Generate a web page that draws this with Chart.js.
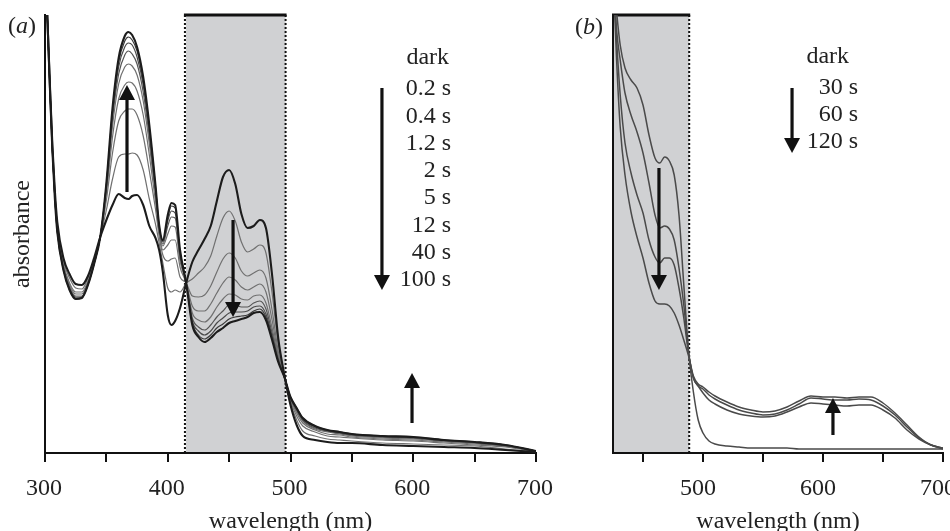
<!DOCTYPE html>
<html><head><meta charset="utf-8">
<script src="https://cdn.jsdelivr.net/npm/chart.js@4.4.1/dist/chart.umd.min.js"></script>
<style>
html,body{margin:0;padding:0;background:#fff;width:950px;height:531px;overflow:hidden;}
#ca{position:absolute;left:0;top:0;}
#cb{position:absolute;left:560px;top:0;}
.lab{position:absolute;font-family:'Liberation Serif','Times New Roman',serif;font-size:24px;color:#222;line-height:28px;}
</style></head><body>
<canvas id="ca" width="560" height="531"></canvas>
<canvas id="cb" width="390" height="531"></canvas>
<div class="lab" style="left:8px;top:11px">(<i>a</i>)</div>
<div class="lab" style="left:575px;top:12px">(<i>b</i>)</div>
<script>
// ---------- panel (a) data ----------
const wlA = [300,302,304,306,308,310,315,320,325,330,335,340,345,350,355,360,365,368,371,375,380,385,390,393,396,400,403,406,410,415,420,425,430,435,440,445,450,455,460,465,470,475,480,485,490,495,500,505,510,520,530,540,550,575,600,625,650,675,700];
const aDark = [4.93,4.33,3.68,3.08,2.63,2.31,1.95,1.79,1.69,1.68,1.77,1.95,2.16,2.33,2.48,2.59,2.55,2.54,2.57,2.58,2.48,2.27,2.15,2.03,1.81,1.38,1.28,1.32,1.45,1.70,1.91,2.03,2.14,2.27,2.52,2.76,2.83,2.69,2.39,2.25,2.27,2.33,2.25,1.78,1.15,0.78,0.48,0.28,0.17,0.13,0.11,0.10,0.10,0.08,0.07,0.06,0.05,0.03,0.01];
const a02 = [4.93,4.33,3.67,3.07,2.61,2.28,1.92,1.75,1.65,1.64,1.75,1.93,2.16,2.43,2.74,2.96,2.99,2.99,3.00,2.98,2.83,2.54,2.29,2.10,1.90,1.65,1.61,1.63,1.61,1.70,1.74,1.80,1.86,1.97,2.17,2.35,2.42,2.32,2.11,2.01,2.04,2.08,2.00,1.60,1.09,0.77,0.50,0.33,0.22,0.17,0.14,0.13,0.12,0.10,0.09,0.08,0.07,0.04,0.01];
const a04 = [4.93,4.33,3.66,3.05,2.59,2.26,1.89,1.70,1.61,1.61,1.72,1.92,2.16,2.53,3.00,3.32,3.42,3.44,3.44,3.38,3.17,2.82,2.44,2.17,1.98,1.92,1.94,1.95,1.76,1.70,1.57,1.56,1.58,1.67,1.81,1.94,2.00,1.95,1.82,1.77,1.80,1.83,1.75,1.43,1.02,0.77,0.52,0.37,0.27,0.21,0.17,0.16,0.15,0.13,0.12,0.10,0.08,0.06,0.01];
const a12 = [4.93,4.33,3.66,3.05,2.57,2.24,1.87,1.68,1.59,1.59,1.71,1.91,2.16,2.59,3.16,3.54,3.68,3.71,3.70,3.62,3.38,2.98,2.52,2.21,2.03,2.08,2.13,2.13,1.86,1.70,1.47,1.42,1.42,1.49,1.60,1.70,1.76,1.73,1.66,1.63,1.66,1.69,1.61,1.33,0.98,0.77,0.54,0.40,0.30,0.23,0.19,0.18,0.16,0.14,0.13,0.11,0.09,0.07,0.02];
const a2 = [4.93,4.33,3.66,3.04,2.57,2.23,1.85,1.66,1.57,1.57,1.70,1.90,2.16,2.63,3.27,3.69,3.86,3.89,3.87,3.78,3.52,3.09,2.58,2.23,2.07,2.19,2.27,2.26,1.92,1.70,1.40,1.33,1.31,1.36,1.46,1.54,1.59,1.58,1.54,1.53,1.57,1.58,1.50,1.25,0.96,0.76,0.54,0.42,0.32,0.24,0.21,0.19,0.17,0.15,0.14,0.12,0.10,0.07,0.02];
const a5 = [4.93,4.33,3.65,3.04,2.56,2.22,1.84,1.65,1.56,1.56,1.69,1.90,2.16,2.66,3.34,3.79,3.98,4.02,3.99,3.89,3.61,3.16,2.62,2.25,2.09,2.27,2.36,2.35,1.96,1.70,1.35,1.26,1.23,1.28,1.36,1.42,1.48,1.48,1.46,1.46,1.50,1.52,1.44,1.20,0.94,0.76,0.55,0.43,0.33,0.25,0.22,0.20,0.18,0.16,0.15,0.12,0.10,0.07,0.02];
const a12s = [4.93,4.33,3.65,3.03,2.56,2.22,1.84,1.64,1.55,1.56,1.69,1.89,2.16,2.68,3.39,3.86,4.06,4.10,4.08,3.96,3.68,3.21,2.65,2.26,2.11,2.32,2.42,2.40,1.99,1.70,1.32,1.22,1.18,1.22,1.30,1.35,1.40,1.41,1.41,1.42,1.46,1.47,1.39,1.17,0.93,0.76,0.55,0.44,0.34,0.26,0.22,0.20,0.18,0.16,0.15,0.13,0.11,0.08,0.02];
const a40 = [4.93,4.33,3.65,3.03,2.55,2.21,1.83,1.63,1.54,1.55,1.68,1.89,2.16,2.69,3.42,3.91,4.12,4.16,4.13,4.02,3.72,3.25,2.67,2.27,2.12,2.35,2.47,2.45,2.01,1.70,1.30,1.18,1.14,1.18,1.25,1.29,1.34,1.36,1.37,1.38,1.42,1.44,1.36,1.15,0.92,0.76,0.56,0.45,0.35,0.27,0.23,0.21,0.19,0.17,0.16,0.13,0.11,0.08,0.02];
const a100 = [4.93,4.33,3.65,3.03,2.55,2.21,1.83,1.63,1.54,1.55,1.68,1.89,2.16,2.70,3.45,3.95,4.17,4.21,4.18,4.06,3.76,3.28,2.68,2.28,2.13,2.38,2.50,2.48,2.03,1.70,1.28,1.16,1.11,1.15,1.21,1.25,1.30,1.32,1.34,1.36,1.40,1.41,1.33,1.13,0.91,0.76,0.56,0.45,0.35,0.27,0.23,0.21,0.19,0.17,0.16,0.13,0.11,0.08,0.02];
const legendA = ['0.2 s','0.4 s','1.2 s','2 s','5 s','12 s','40 s','100 s'];
const ticksA = [300,350,400,450,500,550,600,650,700];
const tickLabelsA = ['300','','400','','500','','600','','700'];
const shadeA = [414, 496];
const arrowsA = [[366.8,2.61,3.68],[453.2,2.33,1.36],[599,0.30,0.80],[574.5,3.65,1.63]];

// ---------- panel (b) data ----------
const wlB = [425,428,431,435,440,445,450,455,460,464,468,472,476,480,484,488,492,496,500,505,510,520,530,540,550,560,570,580,590,600,610,620,630,640,650,660,670,680,690,700];
const bDark = [4.83,4.41,4.08,3.85,3.73,3.65,3.48,3.18,2.95,2.90,2.96,2.92,2.78,2.38,1.68,1.01,0.61,0.33,0.20,0.12,0.09,0.07,0.06,0.05,0.05,0.05,0.05,0.04,0.04,0.04,0.04,0.04,0.04,0.04,0.04,0.04,0.04,0.04,0.04,0.04];
const b30 = [4.83,4.23,3.93,3.60,3.38,3.21,3.00,2.70,2.38,2.25,2.27,2.24,2.13,1.85,1.48,1.01,0.75,0.67,0.60,0.53,0.49,0.43,0.39,0.37,0.36,0.37,0.41,0.46,0.50,0.49,0.48,0.47,0.48,0.48,0.43,0.35,0.23,0.14,0.08,0.04];
const b60 = [4.83,4.13,3.58,3.10,2.80,2.58,2.40,2.13,1.96,1.90,1.95,1.95,1.88,1.65,1.35,0.99,0.75,0.67,0.64,0.58,0.54,0.48,0.43,0.40,0.38,0.39,0.43,0.49,0.55,0.54,0.53,0.53,0.54,0.53,0.47,0.38,0.26,0.15,0.08,0.05];
const b120 = [4.83,3.93,3.26,2.78,2.41,2.16,1.95,1.70,1.52,1.49,1.49,1.47,1.40,1.28,1.13,0.97,0.77,0.69,0.66,0.61,0.57,0.51,0.46,0.43,0.41,0.42,0.46,0.52,0.57,0.56,0.56,0.55,0.56,0.56,0.50,0.40,0.28,0.16,0.08,0.05];
const legendB = ['30 s','60 s','120 s'];
const ticksB = [450,500,550,600,650,700];
const tickLabelsB = ['','500','','600','','700'];
const shadeB = [425, 488.5];
const arrowsB = [[574.2,3.65,3.00],[463.3,2.85,1.63],[608.3,0.18,0.55]];

// ---------- drawing ----------
const SERIF = "'Liberation Serif','Times New Roman',serif";
const INK = '#1c1c1c';

function pts(wl, ys){ return wl.map((w,i)=>({x:w, y:ys[i]})); }

function drawArrow(ctx, xs, ys, a){
  const px = xs.getPixelForValue(a[0]), p0 = ys.getPixelForValue(a[1]), p1 = ys.getPixelForValue(a[2]);
  const dir = p1 > p0 ? 1 : -1, hl = 15, hw = 8;
  ctx.save();
  ctx.strokeStyle = '#111'; ctx.fillStyle = '#111'; ctx.lineWidth = 3.2;
  ctx.beginPath(); ctx.moveTo(px, p0); ctx.lineTo(px, p1 - dir*hl); ctx.stroke();
  ctx.beginPath(); ctx.moveTo(px, p1); ctx.lineTo(px-hw, p1-dir*hl); ctx.lineTo(px+hw, p1-dir*hl); ctx.closePath(); ctx.fill();
  ctx.restore();
}

function makeDecor(cfg){
  return {
    id: 'decor',
    beforeDatasetsDraw(chart){
      const {ctx, chartArea:{top,bottom}, scales:{x}} = chart;
      const x0 = x.getPixelForValue(cfg.shade[0]), x1 = x.getPixelForValue(cfg.shade[1]);
      ctx.save();
      ctx.fillStyle = '#d0d1d3';
      ctx.fillRect(x0+1, top+1, x1-x0-1, bottom-top-2);
      ctx.strokeStyle = '#111'; ctx.lineWidth = 2; ctx.setLineDash([2,2]);
      ctx.beginPath();
      if (!cfg.solidLeft){ ctx.moveTo(x0, top); ctx.lineTo(x0, bottom); }
      ctx.moveTo(x1, top); ctx.lineTo(x1, bottom);
      ctx.stroke();
      ctx.setLineDash([]); ctx.lineWidth = 3;
      ctx.beginPath(); ctx.moveTo(x0-1, top); ctx.lineTo(x1+1, top); ctx.stroke();
      ctx.restore();
    },
    afterDatasetsDraw(chart){
      const {ctx, scales:{x,y}} = chart;
      cfg.arrows.forEach(a => drawArrow(ctx, x, y, a));
      ctx.save();
      ctx.fillStyle = '#222'; ctx.font = '24px ' + SERIF;
      ctx.textAlign = 'right'; ctx.textBaseline = 'middle';
      ctx.fillText('dark', x.getPixelForValue(cfg.head[0]), y.getPixelForValue(cfg.head[1]));
      cfg.legend.forEach((t,i) => {
        ctx.fillText(t, x.getPixelForValue(cfg.rowX), y.getPixelForValue(cfg.rowY0 - i*cfg.rowStep));
      });
      ctx.restore();
    }
  };
}

function xAxis(min, max, ticks, labels, lblOff){
  return {
    type:'linear', min:min, max:max,
    afterBuildTicks(s){ s.ticks = ticks.map(v => ({value:v})); },
    ticks:{ autoSkip:false, maxRotation:0, minRotation:0, padding:12, color:'#222', labelOffset:lblOff,
            font:{family:SERIF, size:24}, callback:(v,i) => labels[i] },
    grid:{ display:true, drawOnChartArea:false, drawTicks:true, tickLength:9, color:'#111', lineWidth:2 },
    border:{ display:true, color:'#111', width:2 },
    title:{ display:true, text:'wavelength (nm)', color:'#222', font:{family:SERIF, size:24, lineHeight:0.8}, padding:{top:0, bottom:0} },
    afterFit(s){ s.height = 78; s.paddingLeft = 0; s.paddingRight = 0; }
  };
}

function yAxis(width, withTitle){
  return {
    type:'linear', min:0, max:4.38,
    ticks:{ display:false },
    grid:{ display:false },
    border:{ display:true, color:'#111', width:2 },
    title:{ display:withTitle, text:'absorbance', color:'#222', font:{family:SERIF, size:24, lineHeight:1}, padding:{top:11, bottom:0} },
    afterFit(s){ s.width = width; s.paddingTop = 0; s.paddingBottom = 0; }
  };
}

function ds(wl, ys, color, w){
  return { data: pts(wl, ys), borderColor: color, borderWidth: w, pointRadius: 0,
           tension: 0.4, cubicInterpolationMode: 'monotone', fill: false };
}

const GRAY = '#707070';
new Chart(document.getElementById('ca'), {
  type: 'line',
  data: { datasets: [
    ds(wlA, aDark, INK, 2.1),
    ds(wlA, a100, INK, 2.1),
    ds(wlA, a40, '#3a3a3a', 1.2),
    ds(wlA, a12s, '#4a4a4a', 1.2),
    ds(wlA, a5, '#555', 1.2),
    ds(wlA, a2, GRAY, 1.2),
    ds(wlA, a12, GRAY, 1.2),
    ds(wlA, a04, GRAY, 1.2),
    ds(wlA, a02, GRAY, 1.2)
  ]},
  options: {
    responsive:false, animation:false, events:[],
    layout:{ padding:{left:0, right:24, top:15, bottom:0} },
    plugins:{ legend:{display:false}, tooltip:{enabled:false} },
    scales:{ x: xAxis(300, 700, ticksA, tickLabelsA, -1), y: yAxis(45, true) }
  },
  plugins: [ makeDecor({ shade: shadeA, solidLeft:false, arrows: arrowsA,
    head:[629.2, 3.95], legend: legendA, rowX: 630.8, rowY0: 3.64, rowStep: 0.273 }) ]
});

new Chart(document.getElementById('cb'), {
  type: 'line',
  data: { datasets: [
    ds(wlB, bDark, '#4a4a4a', 1.5),
    ds(wlB, b30, '#4a4a4a', 1.5),
    ds(wlB, b60, '#4a4a4a', 1.5),
    ds(wlB, b120, '#4a4a4a', 1.5)
  ]},
  options: {
    responsive:false, animation:false, events:[],
    layout:{ padding:{left:0, right:7, top:15, bottom:0} },
    plugins:{ legend:{display:false}, tooltip:{enabled:false} },
    scales:{ x: xAxis(425, 700, ticksB, tickLabelsB, -5), y: yAxis(53, false) }
  },
  plugins: [ makeDecor({ shade: shadeB, solidLeft:true, arrows: arrowsB,
    head:[621.7, 3.96], legend: legendB, rowX: 629.2, rowY0: 3.65, rowStep: 0.27 }) ]
});
</script>
</body></html>
